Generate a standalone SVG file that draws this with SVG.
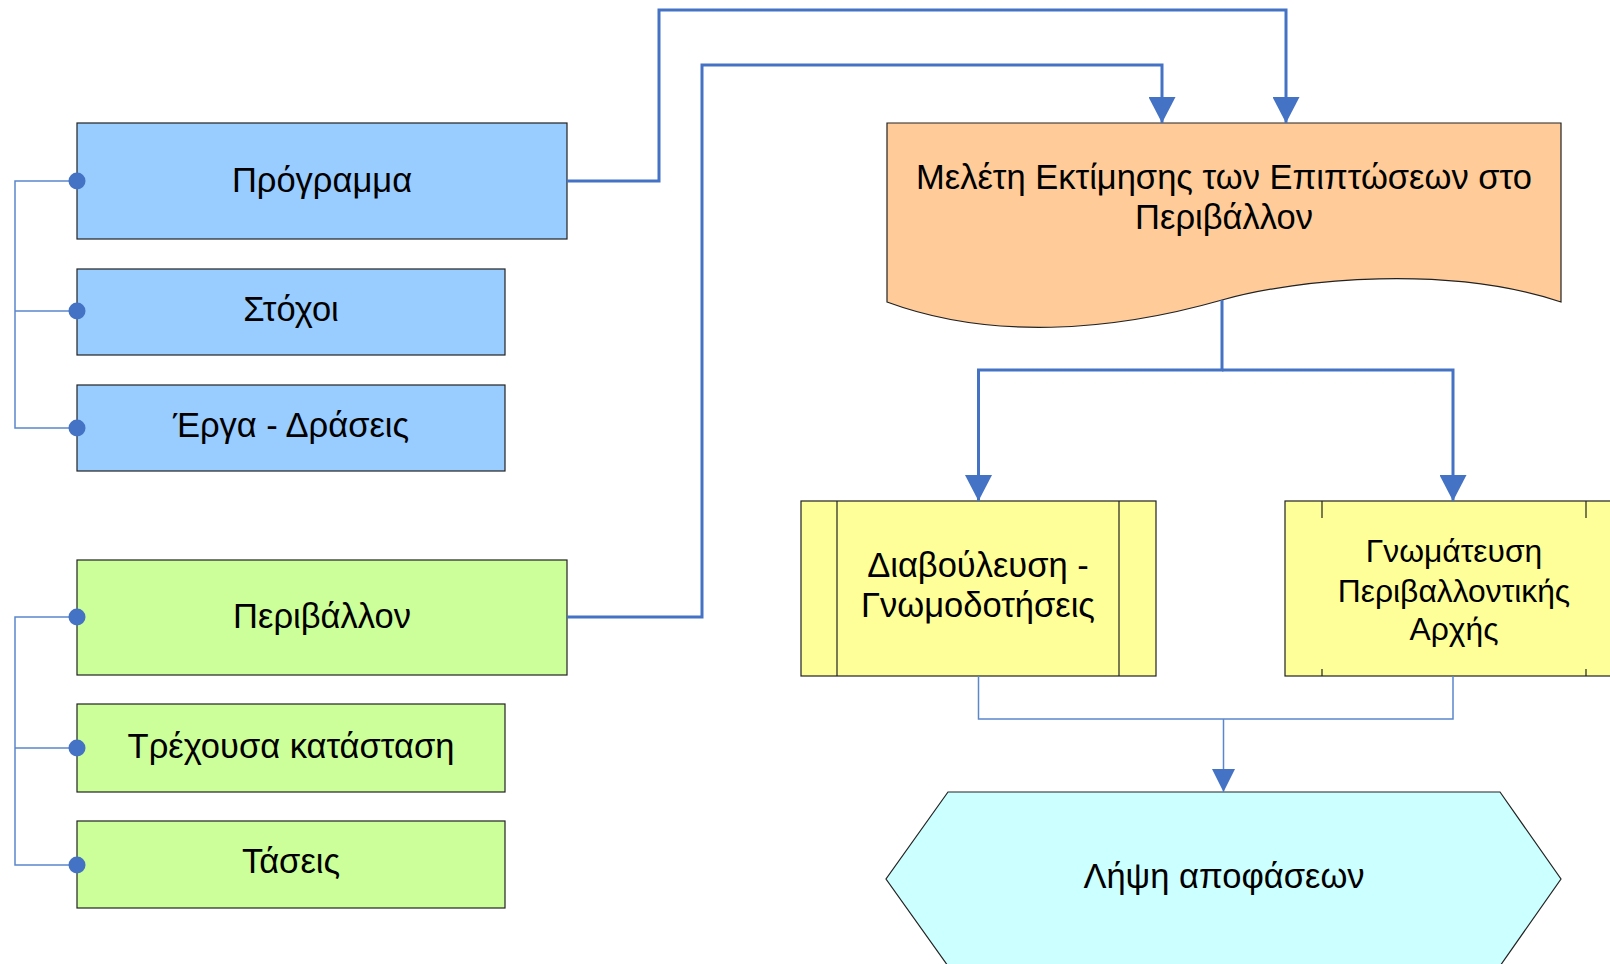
<svg xmlns="http://www.w3.org/2000/svg" width="1610" height="964" viewBox="0 0 1610 964">
<style>
  .box { stroke: #222; stroke-width: 1.2; }
  .blue { fill: #99ccff; }
  .green { fill: #ccff99; }
  .orange { fill: #ffcc99; }
  .yellow { fill: #ffff99; }
  .cyan { fill: #ccffff; }
  .t { font-family: "Liberation Sans", Arial, sans-serif; font-size: 34.5px; fill: #000; text-anchor: middle; }
  .ts { font-size: 31.8px; }
  .thick { fill: none; stroke: #4472c4; stroke-width: 3; }
  .thin { fill: none; stroke: #5b87cc; stroke-width: 1.5; }
  .dot { fill: #4472c4; }
  .inner { stroke: #222; stroke-width: 1.2; fill: none; }
</style>
<defs>
  <marker id="arrowBig" viewBox="0 0 26 27" refX="26" refY="13.5" markerWidth="26" markerHeight="27" markerUnits="userSpaceOnUse" orient="auto">
    <path d="M0,0 L26,13.5 L0,27 Z" fill="#4472c4"/>
  </marker>
  <marker id="arrowSmall" viewBox="0 0 23 23" refX="23" refY="11.5" markerWidth="23" markerHeight="23" markerUnits="userSpaceOnUse" orient="auto">
    <path d="M0,0 L23,11.5 L0,23 Z" fill="#4472c4"/>
  </marker>
</defs>
<rect width="1610" height="964" fill="#ffffff"/>

<g id="node-programma">
  <rect class="box blue" x="77" y="123" width="490" height="116"/>
  <text class="t" x="322" y="192">Πρόγραμμα</text>
</g>
<g id="node-stochoi">
  <rect class="box blue" x="77" y="269" width="428" height="86"/>
  <text class="t" x="291" y="321">Στόχοι</text>
</g>
<g id="node-erga">
  <rect class="box blue" x="77" y="385" width="428" height="86"/>
  <text class="t" x="291" y="437">Έργα - Δράσεις</text>
</g>
<g id="node-perivallon">
  <rect class="box green" x="77" y="560" width="490" height="115"/>
  <text class="t" x="322" y="628">Περιβάλλον</text>
</g>
<g id="node-trechousa">
  <rect class="box green" x="77" y="704" width="428" height="88"/>
  <text class="t" x="291" y="758">Τρέχουσα κατάσταση</text>
</g>
<g id="node-taseis">
  <rect class="box green" x="77" y="821" width="428" height="87"/>
  <text class="t" x="291" y="873">Τάσεις</text>
</g>
<g id="node-meleti">
  <path class="box orange" d="M887,123 H1561 V302 C1450,265 1300,278 1222,300 C1110,332 990,340 887,302 Z"/>
  <text class="t" x="1224" y="189">Μελέτη Εκτίμησης των Επιπτώσεων στο</text>
  <text class="t" x="1224" y="229">Περιβάλλον</text>
</g>
<g id="node-diavouleusi">
  <rect class="box yellow" x="801" y="501" width="355" height="175"/>
  <line class="inner" x1="837" y1="501" x2="837" y2="676"/>
  <line class="inner" x1="1119" y1="501" x2="1119" y2="676"/>
  <text class="t" x="978" y="577">Διαβούλευση -</text>
  <text class="t" x="978" y="617">Γνωμοδοτήσεις</text>
</g>
<g id="node-gnomateusi">
  <rect class="box yellow" x="1285" y="501" width="360" height="175"/>
  <line class="inner" x1="1322" y1="501" x2="1322" y2="518"/>
  <line class="inner" x1="1586" y1="501" x2="1586" y2="518"/>
  <line class="inner" x1="1322" y1="669" x2="1322" y2="676"/>
  <line class="inner" x1="1586" y1="669" x2="1586" y2="676"/>
  <text class="t ts" x="1454" y="562">Γνωμάτευση</text>
  <text class="t ts" x="1454" y="602">Περιβαλλοντικής</text>
  <text class="t ts" x="1454" y="640">Αρχής</text>
</g>
<g id="node-lipsi">
  <path class="box cyan" d="M948,792 H1500 L1561,879 L1500,966 H948 L886,879 Z"/>
  <text class="t" x="1224" y="888">Λήψη αποφάσεων</text>
</g>

<g id="connectors">
  <path class="thin" d="M77,181 H15 V428 H77 M15,311 H77"/>
  <path class="thin" d="M77,617 H15 V865 H77 M15,748 H77"/>
  <circle class="dot" cx="77" cy="181" r="8.5"/>
  <circle class="dot" cx="77" cy="311" r="8.5"/>
  <circle class="dot" cx="77" cy="428" r="8.5"/>
  <circle class="dot" cx="77" cy="617" r="8.5"/>
  <circle class="dot" cx="77" cy="748" r="8.5"/>
  <circle class="dot" cx="77" cy="865" r="8.5"/>
  <path class="thick" d="M567,181 H659 V10 H1286 V123" marker-end="url(#arrowBig)"/>
  <path class="thick" d="M567,617 H702 V65 H1162 V123" marker-end="url(#arrowBig)"/>
  <path class="thick" d="M1222,300 V370 H978.5 V501" marker-end="url(#arrowBig)"/>
  <path class="thick" d="M1222,370 H1453 V501" marker-end="url(#arrowBig)"/>
  <path class="thin" d="M978.5,676 V719 H1453 V676"/>
  <path class="thin" d="M1223.5,719 V792" marker-end="url(#arrowSmall)"/>
</g>
</svg>
